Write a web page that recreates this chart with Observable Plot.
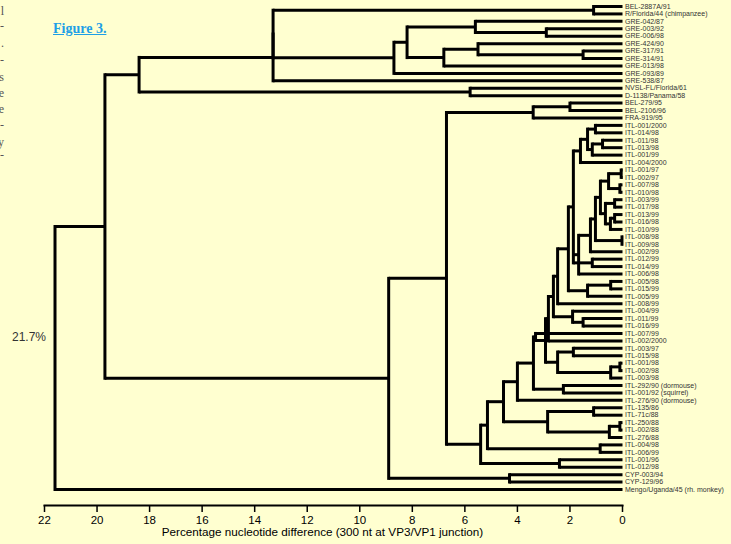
<!DOCTYPE html>
<html><head><meta charset="utf-8">
<script src="https://cdn.jsdelivr.net/npm/d3@7"></script>
<script src="https://cdn.jsdelivr.net/npm/@observablehq/plot@0.6"></script>
<style>
html,body{margin:0;padding:0;background:#ffffd0;}
#wrap{position:relative;width:731px;height:544px;overflow:hidden;background:#ffffd0;}
#wrap svg{position:absolute;left:0;top:0;}
.ann{position:absolute;white-space:nowrap;line-height:1;}
#fig{left:53px;top:21px;font:bold 14px "Liberation Serif","Times New Roman",serif;color:#1e9fe6;text-decoration:underline;}
#pct{left:12px;top:330px;font:12px "Liberation Sans",Arial,sans-serif;color:#333;}
.frag{position:absolute;left:-16px;width:20px;text-align:right;font:12px "Liberation Serif",serif;color:#555;line-height:1;}
</style></head><body><div id="wrap">
<div id="fig" class="ann">Figure 3.</div>
<div id="pct" class="ann">21.7%</div>
</div>
<script>
// ---- data ----
const leaves = [
 ["BEL-2887A/91","D"],["R/Florida/44 (chimpanzee)","D"],["GRE-042/87","G"],["GRE-003/92","H"],["GRE-006/98","H"],
 ["GRE-424/90","J"],["GRE-317/91","K"],["GRE-314/91","K"],["GRE-013/98","I"],["GRE-093/89","E"],["GRE-538/87","M"],
 ["NVSL-FL/Florida/61","L"],["D-1138/Panama/58","L"],["BEL-279/95","BP"],["BEL-2106/96","BP"],["FRA-919/95","Q"],
 ["ITL-001/2000","a1"],["ITL-014/98","a1"],["ITL-011/98","a2"],["ITL-013/98","a2"],["ITL-001/99","a3"],["ITL-004/2000","a5"],
 ["ITL-001/97","b1"],["ITL-002/97","b1"],["ITL-007/98","b2"],["ITL-010/98","b2"],["ITL-003/99","b4"],["ITL-017/98","b4"],
 ["ITL-013/99","b5"],["ITL-016/98","b5"],["ITL-010/99","b6"],["ITL-008/98","b9"],["ITL-009/98","b9"],["ITL-002/99","b11"],
 ["ITL-012/99","b12"],["ITL-014/99","b12"],["ITL-006/98","n578"],["ITL-005/98","c1"],["ITL-015/99","c1"],["ITL-005/99","c2"],
 ["ITL-008/99","n557"],["ITL-004/99","d1"],["ITL-011/99","d2"],["ITL-016/99","d2"],["ITL-007/99","Yc"],["ITL-002/2000","n548"],
 ["ITL-003/97","Y21"],["ITL-015/98","Y21"],["ITL-001/98","Y23"],["ITL-002/98","Y23"],["ITL-003/98","Y22"],
 ["ITL-292/90 (dormouse)","SQ"],["ITL-001/92 (squirrel)","SQ"],["ITL-276/90 (dormouse)","W"],["ITL-135/86","U1"],["ITL-71c/88","U1"],
 ["ITL-250/88","S"],["ITL-002/88","S"],["ITL-276/88","T"],["ITL-004/98","Z2"],["ITL-006/99","Z2"],["ITL-001/96","Z1"],["ITL-012/98","Z1"],
 ["CYP-003/94","CYP"],["CYP-129/96","CYP"],["Mengo/Uganda/45 (rh. monkey)","root"]
];
// [cluster id, parent cluster, height in % difference]
const clusters = [
 ["root",null,21.6],["A","root",19.7],["B","A",18.4],["M","B",13.3],["C","M",13.3],["D","C",1.1],["E","C",8.7],
 ["F","E",8.2],["G","F",5.6],["H","G",2.9],["I","F",6.8],["J","I",5.5],["K","J",1.5],["L","B",5.8],
 ["N","A",8.9],["CYP","N",4.3],["P","N",6.7],["Q","P",3.4],["BP","Q",2.0],["I0","P",5.4],["Z1","I0",2.4],
 ["I1","I0",5.14],["Z2","I1",0.85],["I2","I1",4.53],["U","I2",2.85],["U1","U",1.1],["T","U",0.5],["S","T",0.1],
 ["W","I2",4.0],["X","W",3.39],["SQ","X",2.25],["Yc","X",3.31],["Yb","Yc",2.93],["Y2","Yb",2.47],["Y21","Y2",1.87],
 ["Y22","Y2",0.45],["Y23","Y22",0.1],["n548","Yb",2.82],["n553","n548",2.63],["d1","n553",1.9],["d2","d1",1.5],
 ["n557","n553",2.47],["n568","n557",2.06],["c2","n568",1.33],["c1","c2",0.45],["n573","n568",1.87],
 ["a5","n573",1.6],["a4","a5",1.33],["a1","a4",1.03],["a3","a4",1.15],["a2","a3",0.76],
 ["b12","n573",1.15],["n578","n573",1.67],["b11","n578",1.22],["b10","b11",1.03],["b9","b10",0.02],["b8","b10",0.84],
 ["b3","b8",0.53],["b1","b3",0.05],["b2","b3",0.1],["b7","b8",0.65],["b4","b7",0.3],["b6","b7",0.46],["b5","b6",0.3]
];
const xTicks = [22,20,18,16,14,12,10,8,6,4,2,0];
const axisTitle = "Percentage nucleotide difference (300 nt at VP3/VP1 junction)";
const edgeFragments = [["l",5],["-",20],[".",37],["-",54],["s",71],["e",87],["e",103],["-",119],["y",136],["-",149]];

// ---- layout from data ----
const cmap = new Map(clusters.map(([id,parent,h]) => [id,{id,parent,h,children:[]}]));
const leafRows = leaves.map(([name,parent],i) => ({name,parent,h:0,y:i,children:[]}));
for (const n of [...cmap.values(), ...leafRows]) if (n.parent) cmap.get(n.parent).children.push(n);
function getY(n){ if (n.y!==undefined) return n.y; const ys=n.children.map(getY); n.ylo=Math.min(...ys); n.yhi=Math.max(...ys); n.y=(n.ylo+n.yhi)/2; return n.y; }
getY(cmap.get("root"));
const verticals = [...cmap.values()].map(n => ({x1:n.h,y1:n.ylo,x2:n.h,y2:n.yhi}));
const horizontals = [...cmap.values(), ...leafRows].filter(n=>n.parent).map(n => ({x1:n.h,y1:n.y,x2:cmap.get(n.parent).h,y2:n.y}));

const chart = Plot.plot({
  width:731, height:544,
  marginLeft:44, marginRight:109, marginTop:0, marginBottom:39,
  style:{background:"transparent", fontFamily:"'Liberation Sans', Arial, sans-serif", color:"#000"},
  x:{domain:[22,0]},
  y:{domain:[0,65], range:[6,489], axis:null},
  marks:[
    Plot.link(horizontals,{x1:"x1",y1:"y1",x2:"x2",y2:"y2",stroke:"#000",strokeWidth:3,strokeLinecap:"butt"}),
    Plot.link(verticals,{x1:"x1",y1:"y1",x2:"x2",y2:"y2",stroke:"#000",strokeWidth:3,strokeLinecap:"square"}),
    Plot.text(leafRows,{x:0,y:"y",text:"name",textAnchor:"start",dx:2.5,fontSize:7,fill:"#333"}),
    Plot.frame({anchor:"bottom",stroke:"#000",strokeWidth:2}),
    Plot.axisX({ticks:xTicks,tickFormat:d=>String(d),tickSize:7,tickPadding:3,fontSize:11.5,strokeWidth:1.5,label:null}),
    Plot.text([axisTitle],{frameAnchor:"bottom",dy:30,dx:-11,fontSize:11.7,fill:"#000"})
  ]
});
const wrap = document.getElementById("wrap");
wrap.insertBefore(chart, wrap.firstChild);
for (const [ch,top] of edgeFragments){ const d=document.createElement("div"); d.className="frag"; d.style.top=top+"px"; d.textContent=ch; wrap.appendChild(d); }
</script>
</body></html>
